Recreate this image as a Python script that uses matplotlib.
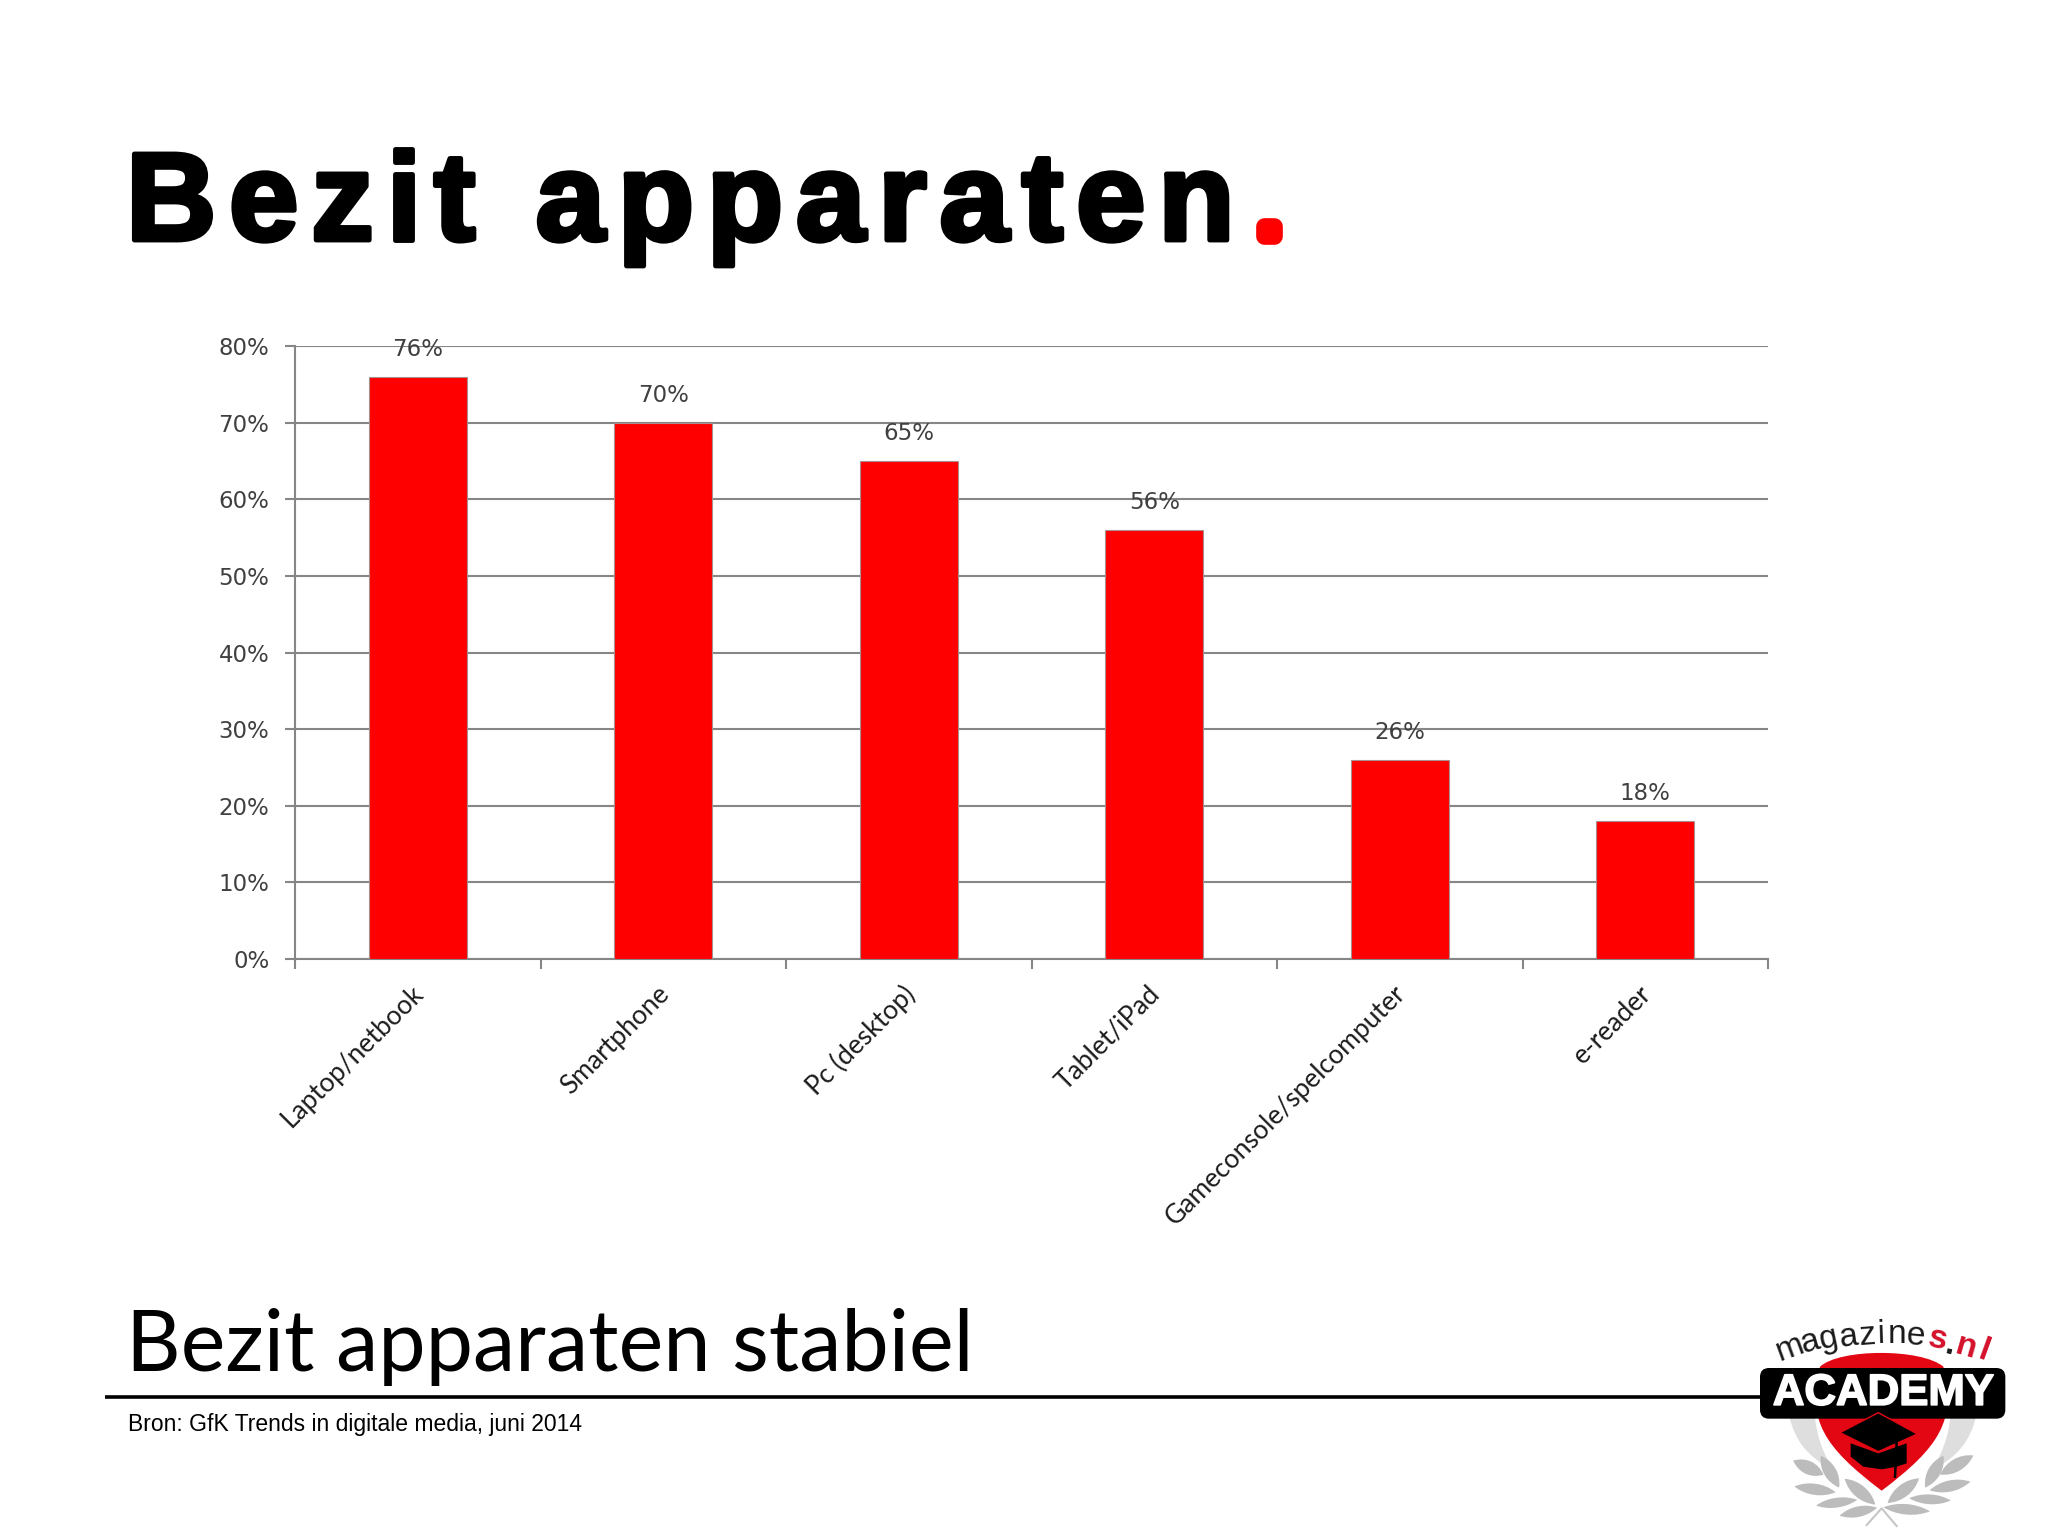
import numpy as np
import matplotlib
matplotlib.use("Agg")
import matplotlib.pyplot as plt
from matplotlib.font_manager import FontProperties
from matplotlib.patches import FancyBboxPatch, Polygon, PathPatch
from matplotlib.path import Path
from matplotlib.textpath import TextPath
from matplotlib.ticker import PercentFormatter, FixedLocator, NullFormatter
import matplotlib.patheffects as pe

categories = ["Laptop/netbook", "Smartphone", "Pc (desktop)", "Tablet/iPad",
              "Gameconsole/spelcomputer", "e-reader"]
values = [76, 70, 65, 56, 26, 18]
y_ticks = [0, 10, 20, 30, 40, 50, 60, 70, 80]
title_text = "Bezit apparaten"
subtitle_text = "Bezit apparaten stabiel"
source_text = "Bron: GfK Trends in digitale media, juni 2014"

W, H = 2048, 1536
GREY = "#868686"
RED = "#ff0000"
fig = plt.figure(figsize=(20.48, 15.36), dpi=100, facecolor="white")

# chart
ax = fig.add_axes([295 / W, 1 - 959 / H, (1768 - 295) / W, (959 - 346) / H])
x = np.arange(len(categories))
ax.set_xlim(-0.5, len(categories) - 0.5)
ax.set_ylim(0, 80)
ax.set_axisbelow(True)
ax.yaxis.grid(True, color=GREY, lw=1.5)
ax.bar(x, values, width=0.4, color=RED, edgecolor="#a89090", lw=0.8, zorder=3)
for s in ("top", "right"):
    ax.spines[s].set_visible(False)
for s in ("left", "bottom"):
    ax.spines[s].set_color(GREY)
    ax.spines[s].set_linewidth(1.5)
ax.yaxis.set_major_locator(FixedLocator(y_ticks))
ax.yaxis.set_major_formatter(PercentFormatter(decimals=0))
ax.tick_params(axis="y", length=7, width=1.5, color=GREY, labelsize=16.5,
               labelcolor="#404040", pad=11.5)
ax.xaxis.set_major_locator(FixedLocator(np.arange(len(categories) + 1) - 0.5))
ax.xaxis.set_major_formatter(NullFormatter())
ax.tick_params(axis="x", length=7, width=1.5, color=GREY)
for xi, v in zip(x, values):
    ax.annotate(f"{v}%", (xi, v), xytext=(0, 16), textcoords="offset pixels",
                ha="center", va="bottom", fontsize=16.5, color="#404040", zorder=4)
for xi, c in zip(x, categories):
    ax.annotate(c, (xi, 0), xytext=(-7, -22), textcoords="offset pixels",
                rotation=45, rotation_mode="anchor", ha="right", va="top",
                fontsize=19, family="Lato", color="#1c1c1c")

# page overlay in pixel coordinates
pg = fig.add_axes([0, 0, 1, 1], zorder=5)
pg.set_xlim(0, W)
pg.set_ylim(H, 0)
pg.axis("off")
pg.patch.set_alpha(0)

# title with letter spacing
TSIZE = 90
tprop = FontProperties(family="Liberation Sans", weight="bold", size=TSIZE)
bar_w = TextPath((0, 0), "|", prop=tprop).get_extents().x1
def advance(s):
    if not s:
        return 0.0
    return TextPath((0, 0), s + "|", prop=tprop).get_extents().x1 - bar_w
spacing = 12.7
scale = 100 / 72
stroke = [pe.withStroke(linewidth=3.5, foreground="black", joinstyle="round")]
for i, ch in enumerate(title_text):
    xp = 126 + advance(title_text[:i]) * scale + i * spacing
    pg.text(xp, 240, ch, fontproperties=tprop, color="black", va="baseline",
            ha="left", path_effects=stroke)
pg.text(1269, 236, ".", fontproperties=FontProperties(family="Liberation Sans", weight="bold", size=50),
        color=RED, va="baseline", ha="center",
        path_effects=[pe.withStroke(linewidth=12, foreground=RED, joinstyle="round")])

pg.text(126, 1371, subtitle_text, fontsize=60.9, family="Lato", color="black",
        va="baseline", ha="left")
pg.plot([105, 1760], [1397, 1397], color="black", lw=2.6, solid_capstyle="butt")
pg.text(128, 1431, source_text, fontsize=16.5, family="Liberation Sans", color="black",
        va="baseline", ha="left")

# logo (decoration, zoom-crop coordinates)
def P(u, v):
    return 1700 + u / 3, 1280 + v / 3
def curve(pts, **kw):
    verts = [P(*p) for p in pts]
    codes = [Path.MOVETO] + [Path.CURVE4] * (len(pts) - 1)
    pg.add_patch(PathPatch(Path(verts, codes), **kw))
def leaf(u, v, w, h, ang, **kw):
    t = np.radians(ang)
    local = [(-w / 2, 0), (-w / 5, -h * 0.7), (w / 5, -h * 0.7), (w / 2, 0),
             (w / 5, h * 0.7), (-w / 5, h * 0.7), (-w / 2, 0)]
    pts = [(u + a * np.cos(t) - b * np.sin(t), v + a * np.sin(t) + b * np.cos(t)) for a, b in local]
    curve(pts, **kw)
# grey crescents
curve([(268, 410), (285, 480), (320, 530), (400, 570), (370, 520), (350, 470), (345, 410),
       (320, 410), (290, 410), (268, 410)], fc="#dedede", ec="none", zorder=1)
curve([(828, 410), (811, 480), (776, 530), (696, 570), (726, 520), (746, 470), (751, 410),
       (776, 410), (806, 410), (828, 410)], fc="#dedede", ec="none", zorder=1)
# red shield
curve([(360, 260), (420, 205), (665, 205), (730, 260),
       (770, 420), (720, 500), (545, 632),
       (370, 500), (320, 420), (360, 260)], fc="#e30613", ec="none", zorder=2)
x0, y0 = P(180, 264)
x1, y1 = P(916, 416)
pg.add_patch(FancyBboxPatch((x0 + 7, y0 + 7), x1 - x0 - 14, y1 - y0 - 14,
                            boxstyle="round,pad=7,rounding_size=9", fc="black", ec="none", zorder=3))
pg.text(*P(550, 340), "ACADEMY", fontsize=31.5, family="Liberation Sans", weight="bold",
        color="white", ha="center", va="center", zorder=4,
        path_effects=[pe.withStroke(linewidth=1.2, foreground="white")])
# cap
pg.add_patch(Polygon([P(u, v) for u, v in [(452, 490), (535, 520), (620, 490), (620, 550), (590, 560),
                                            (545, 568), (490, 560), (452, 530)]],
                     fc="black", ec="none", zorder=3.9))
pg.add_patch(Polygon([P(u, v) for u, v in [(420, 458), (535, 398), (652, 462), (535, 515)]],
                     fc="black", ec="#e30613", lw=1.0, zorder=4))
pg.plot(*zip(P(535, 458), P(590, 490), P(585, 590)), color="black", lw=1.8, zorder=4.1)
# laurel
leaves = [(325, 563, 100, 38, 25), (390, 575, 110, 36, 60), (345, 628, 125, 32, 8),
          (480, 635, 120, 36, 40), (410, 668, 125, 28, -8), (475, 695, 115, 30, -12),
          (770, 555, 115, 36, -30), (703, 575, 110, 36, -60), (750, 618, 125, 32, -12),
          (610, 632, 120, 36, -38), (690, 658, 125, 28, 3), (620, 688, 140, 30, 5)]
for u, v, w, h, ang in leaves:
    leaf(u, v, w, h, ang, fc="#bcbcbc", ec="none", zorder=2.5)
pg.plot(*zip(P(500, 735), P(545, 685), P(590, 738)), color="#c6c6c6", lw=1.5, zorder=2.5)
# curved wordmark
word = "magazines.nl"
us = [278, 338, 392, 450, 505, 545, 590, 645, 708, 745, 790, 842]
vs = [228, 212, 203, 197, 192, 188, 188, 193, 205, 222, 226, 238]
rots = [20, 16, 12, 8, 4, 2, 0, -5, -12, -14, -16, -20]
cols = ["#1a1a1a"] * 8 + ["#d4112a", "#1a1a1a", "#d4112a", "#d4112a"]
weights = ["normal"] * 8 + ["bold"] * 4
for ch, u, v, r, c, wgt in zip(word, us, vs, rots, cols, weights):
    pg.text(*P(u, v), ch, fontsize=24, family="Liberation Sans", weight=wgt, color=c,
            rotation=r, ha="center", va="baseline", rotation_mode="anchor", zorder=5)

fig.savefig("out.png", dpi=100)
